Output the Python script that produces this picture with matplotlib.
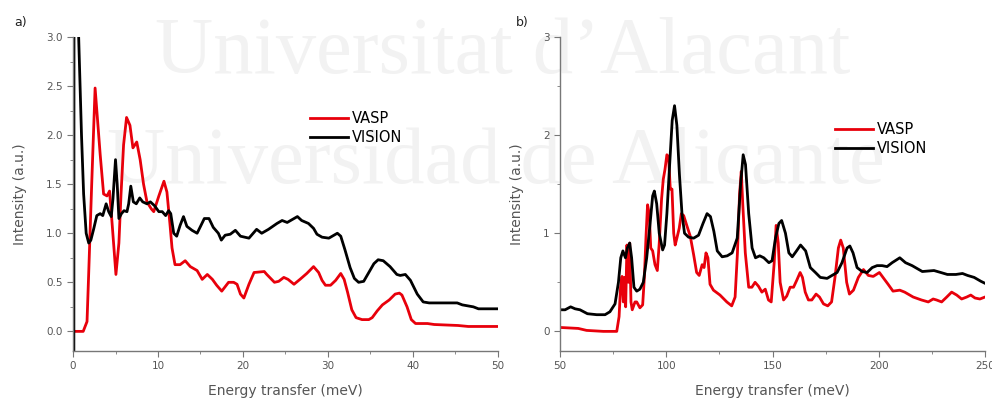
import matplotlib.pyplot as plt
from matplotlib.ticker import MultipleLocator

# panel a) 0-50 meV
a_vasp_x = [0, 1.2, 1.65, 1.85, 2.2, 2.6, 3.2, 3.6, 4.0, 4.3, 4.6, 5.05, 5.4, 5.65, 5.95, 6.3,
            6.7, 7.05, 7.5, 7.9, 8.3, 8.7, 9.2, 9.5, 10.1, 10.7, 11.05, 11.4, 11.65, 12.0, 12.6,
            13.2, 13.8, 14.6, 15.2, 15.8, 16.4, 16.9, 17.5, 18.3, 18.9, 19.3, 19.7, 20.1, 20.7,
            21.3, 22.5, 22.8, 23.7, 24.2, 24.8, 25.3, 26.0, 26.7, 27.5, 28.3, 28.9, 29.3, 29.7,
            30.3, 30.9, 31.5, 31.9, 32.3, 32.8, 33.3, 34.0, 34.8, 35.2, 35.8, 36.4, 37.2, 37.9,
            38.4, 38.7, 39.3, 39.8, 40.3, 41.7, 42.5, 45.3, 46.5, 50]
a_vasp_y = [0.0, 0.0, 0.1, 0.6, 1.5, 2.48, 1.8, 1.4, 1.38, 1.43, 1.1, 0.58, 0.9, 1.4, 1.9, 2.18,
            2.1, 1.87, 1.93, 1.75, 1.5, 1.32, 1.25, 1.22, 1.38, 1.53, 1.42, 1.1, 0.85, 0.68, 0.68,
            0.72, 0.66, 0.62, 0.53, 0.58, 0.53, 0.47, 0.41, 0.5, 0.5, 0.48, 0.38, 0.34, 0.48,
            0.6, 0.61, 0.58, 0.5, 0.51, 0.55, 0.53, 0.48, 0.53, 0.59, 0.66, 0.6, 0.52, 0.47,
            0.47, 0.52, 0.59, 0.53, 0.4, 0.22, 0.14, 0.12, 0.12, 0.14, 0.21, 0.27, 0.32, 0.38,
            0.39, 0.37, 0.25, 0.12, 0.08, 0.08, 0.07, 0.06, 0.05, 0.05]

a_vision_x = [0.1, 0.12, 0.6, 0.8, 1.0, 1.25, 1.55, 1.85, 2.1, 2.45, 2.8, 3.2, 3.5, 3.9, 4.2, 4.5,
              4.7, 5.0, 5.2, 5.4, 5.7, 6.0, 6.35, 6.55, 6.8, 7.1, 7.45, 7.85, 8.2, 8.7, 9.1, 9.6,
              10.1, 10.5, 10.9, 11.25, 11.5, 11.85, 12.2, 12.6, 13.0, 13.4, 14.0, 14.6, 15.0,
              15.45, 16.0, 16.5, 17.1, 17.45, 17.9, 18.5, 19.1, 19.7, 20.7, 21.6, 22.2, 23.0,
              24.0, 24.6, 25.2, 25.8, 26.4, 26.9, 27.7, 28.3, 28.7, 29.3, 30.1, 30.7, 31.1, 31.5,
              32.0, 32.6, 33.1, 33.6, 34.2, 34.8, 35.4, 35.9, 36.5, 37.3, 38.1, 38.5, 39.1, 39.7,
              40.5, 41.2, 41.9, 43.2, 45.2, 45.8, 47.1, 47.7, 50]
a_vision_y = [-0.5, 4.0, 3.2, 2.6, 2.0, 1.4, 1.0, 0.9, 0.93, 1.05, 1.18, 1.2, 1.18, 1.3, 1.22, 1.17,
              1.35, 1.75, 1.5, 1.15, 1.2, 1.23, 1.22, 1.3, 1.48, 1.32, 1.3, 1.36, 1.32, 1.3, 1.32, 1.28,
              1.22, 1.22, 1.18, 1.23, 1.2, 1.0, 0.97, 1.08, 1.17, 1.07, 1.03, 1.0, 1.07,
              1.15, 1.15, 1.06, 1.0, 0.93, 0.98, 0.99, 1.03, 0.97, 0.95, 1.04, 1.0, 1.04,
              1.1, 1.13, 1.11, 1.14, 1.17, 1.13, 1.1, 1.05, 0.99, 0.96, 0.95, 0.98, 1.0, 0.97,
              0.83, 0.65, 0.54, 0.5, 0.51, 0.6, 0.69, 0.73, 0.72, 0.66, 0.58, 0.57, 0.58, 0.52,
              0.38, 0.3, 0.29, 0.29, 0.29, 0.27, 0.25, 0.23, 0.23]

# panel b) 50-250 meV
b_vasp_x = [50, 58.6, 62.5, 70.4, 76.7, 77.8, 78.5, 79.2, 79.8, 80.4, 80.9, 81.5, 82.2, 82.8, 83.4,
            84.0, 85.3, 86.1, 87.6, 88.9, 89.7, 90.5, 91.2, 92.0, 92.7, 93.6, 94.7, 95.8, 96.7,
            97.8, 98.6, 99.4, 100.3, 101.1, 101.9, 102.7, 103.5, 104.2, 105.0, 106.1, 107.1,
            108.2, 109.8, 111.3, 112.9, 114.3, 115.5, 116.9, 117.8, 118.7, 119.6, 120.6, 122.2,
            125.3, 128.5, 130.8, 132.4, 133.5, 134.5, 135.3, 136.0, 137.2, 138.8, 140.3, 141.8,
            143.4, 145.0, 146.6, 148.1, 149.4, 150.8, 151.7, 152.7, 153.6, 155.2, 156.7, 158.3,
            159.9, 161.4, 163.0, 164.1, 165.4, 166.9, 168.5, 170.5, 172.1, 174.0, 176.0, 177.8,
            179.4, 181.0, 182.1, 183.3, 184.9, 186.2, 188.1, 190.4, 192.8, 195.1, 197.4, 200.3,
            202.0, 204.4, 206.7, 209.9, 212.2, 216.2, 220.1, 223.3, 225.6, 227.2, 229.6, 232.0,
            234.3, 236.7, 239.0, 241.4, 243.3, 245.3, 247.6, 250]
b_vasp_y = [0.04, 0.03, 0.01, 0.0, 0.0, 0.15, 0.45, 0.56, 0.3, 0.55, 0.25, 0.88, 0.5, 0.9, 0.3,
            0.22, 0.3, 0.3, 0.24, 0.27, 0.55, 0.98, 1.29, 1.2, 0.85, 0.82, 0.68, 0.62, 0.9,
            1.35, 1.55, 1.65, 1.8, 1.78, 1.45, 1.45, 1.0, 0.88, 0.95, 1.05, 1.2,
            1.18, 1.07, 0.97, 0.78, 0.6, 0.57, 0.68, 0.65, 0.8, 0.75, 0.48, 0.42,
            0.37, 0.3, 0.26, 0.35, 0.8, 1.4, 1.63, 1.3, 0.8, 0.45, 0.45, 0.5,
            0.46, 0.4, 0.43, 0.32, 0.3, 0.7, 1.08, 0.9, 0.5, 0.32, 0.36, 0.45,
            0.45, 0.52, 0.6, 0.55, 0.4, 0.32, 0.32, 0.38, 0.35, 0.28, 0.26, 0.3,
            0.55, 0.85, 0.93, 0.85, 0.5, 0.38, 0.42, 0.55, 0.63, 0.57, 0.56, 0.6,
            0.55, 0.48, 0.41, 0.42, 0.4, 0.35, 0.32, 0.3, 0.33, 0.32, 0.3, 0.35,
            0.4, 0.37, 0.33, 0.35, 0.37, 0.34, 0.33, 0.35]

b_vision_x = [50, 52.4, 55.0, 57.1, 59.4, 62.9, 67.3, 71.2, 73.5, 75.9, 77.5, 78.6, 79.6, 80.8,
              81.7, 82.8, 83.7, 84.8, 86.1, 87.6, 89.2, 90.8, 92.4, 93.6, 94.4, 95.5, 96.7, 98.3,
              99.2, 100.3, 101.6, 102.8, 103.9, 105.0, 106.2, 107.4, 108.6, 110.5, 112.9, 115.2,
              117.3, 119.2, 120.8, 122.4, 124.0, 126.3, 128.7, 131.0, 133.4, 135.0, 136.2, 137.3,
              138.8, 140.4, 142.0, 144.0, 145.9, 148.3, 149.8, 151.4, 153.0, 154.3, 156.1, 157.7,
              159.3, 161.3, 163.2, 165.6, 167.8, 170.2, 172.5, 175.7, 178.0, 180.4, 182.7, 185.1,
              186.4, 187.9, 189.8, 192.2, 194.5, 196.9, 199.2, 201.6, 203.9, 206.3, 209.9, 212.6,
              215.7, 218.9, 220.5, 226.0, 229.2, 232.3, 236.3, 239.4, 241.8, 244.9, 248.1, 250]
b_vision_y = [0.22, 0.22, 0.25, 0.23, 0.22, 0.18, 0.17, 0.17, 0.2, 0.28, 0.5, 0.75, 0.82, 0.75,
              0.85, 0.9, 0.75, 0.45, 0.41, 0.43, 0.5, 0.75, 1.1, 1.38, 1.43, 1.3, 1.0, 0.83,
              0.88, 1.2, 1.7, 2.15, 2.3, 2.1, 1.6, 1.2, 1.0, 0.96, 0.95, 0.98,
              1.1, 1.2, 1.17, 1.02, 0.82, 0.76, 0.77, 0.8, 0.95, 1.5, 1.8, 1.7,
              1.2, 0.85, 0.75, 0.77, 0.75, 0.7, 0.72, 0.95, 1.1, 1.13, 1.0, 0.8,
              0.76, 0.82, 0.88, 0.82, 0.65, 0.6, 0.55, 0.54, 0.57, 0.6, 0.7, 0.85,
              0.87, 0.8, 0.65, 0.61, 0.6, 0.65, 0.67, 0.67, 0.66, 0.7, 0.75, 0.7,
              0.67, 0.63, 0.61, 0.62, 0.6, 0.58, 0.58, 0.59, 0.57, 0.55, 0.51, 0.49]

fig = plt.figure(figsize=(9.92, 3.98), dpi=100)

# faint watermark behind everything
wm = dict(family="Liberation Serif", color="#f2f2f2", fontsize=58, zorder=-10)
fig.text(155 / 992, 1 - 73 / 398, "Universitat d\u2019Alacant", **wm)
fig.text(107 / 992, 1 - 183 / 398, "Universidad de Alicante", **wm)

grey = "#555555"

def setup(ax, xmax_major, xmin_minor, ymajor, yminor):
    ax.patch.set_visible(False)
    for s in ["top", "right"]:
        ax.spines[s].set_visible(False)
    for s in ["left", "bottom"]:
        ax.spines[s].set_color("#777777")
        ax.spines[s].set_linewidth(1.0)
    ax.xaxis.set_major_locator(MultipleLocator(xmax_major))
    ax.xaxis.set_minor_locator(MultipleLocator(xmin_minor))
    ax.yaxis.set_major_locator(MultipleLocator(ymajor))
    ax.yaxis.set_minor_locator(MultipleLocator(yminor))
    ax.tick_params(which="both", direction="out", colors="#777777", labelcolor=grey, labelsize=7.5)
    ax.tick_params(which="major", length=4)
    ax.tick_params(which="minor", length=2.5)
    ax.set_ylim(-0.2, 3.0)
    ax.set_xlabel("Energy transfer (meV)", fontsize=10, color=grey, labelpad=9)

ax1 = fig.add_axes([73 / 992, 1 - 351 / 398, 425 / 992, 314 / 398])
ax1.plot(a_vasp_x, a_vasp_y, color="#e8000b", lw=2.0, label="VASP")
ax1.plot(a_vision_x, a_vision_y, color="black", lw=2.0, label="VISION")
setup(ax1, 10, 5, 0.5, 0.25)
ax1.set_xlim(0, 50)
ax1.yaxis.set_major_formatter(plt.FormatStrFormatter("%.1f"))
ax1.set_ylabel("Intensity (a.u.)", fontsize=10, color=grey, labelpad=14)
ax1.legend(loc="upper left", bbox_to_anchor=(0.526, 0.806), frameon=False, fontsize=10.5,
           handlelength=2.6, handletextpad=0.3, labelspacing=0.3)

ax2 = fig.add_axes([560 / 992, 1 - 351 / 398, 425 / 992, 314 / 398])
ax2.plot(b_vasp_x, b_vasp_y, color="#e8000b", lw=2.0, label="VASP")
ax2.plot(b_vision_x, b_vision_y, color="black", lw=2.0, label="VISION")
setup(ax2, 50, 25, 1, 0.5)
ax2.set_xlim(50, 250)
ax2.set_ylabel("Intensity (a.u.)", fontsize=10, color=grey, labelpad=14)
ax2.legend(loc="upper left", bbox_to_anchor=(0.616, 0.771), frameon=False, fontsize=10.5,
           handlelength=2.6, handletextpad=0.3, labelspacing=0.3)

fig.text(14 / 992, 1 - 26 / 398, "a)", fontsize=9, color="#222222")
fig.text(516 / 992, 1 - 26 / 398, "b)", fontsize=9, color="#222222")

fig.savefig("out.png", dpi=100)
